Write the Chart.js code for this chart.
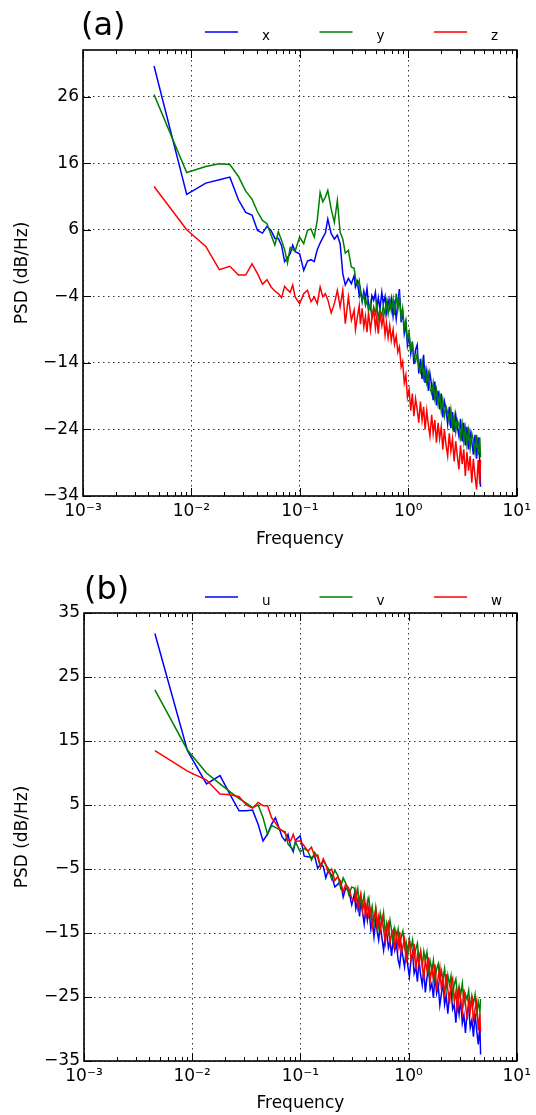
<!DOCTYPE html>
<html>
<head>
<meta charset="utf-8">
<script src="https://cdn.jsdelivr.net/npm/chart.js@4.4.1/dist/chart.umd.min.js"></script>
<style>
  body { margin: 0; background: #fff; }
  .panel { position: absolute; left: 0; width: 536px; }
</style>
</head>
<body>
<div class="panel" style="top:0;height:557px"><canvas id="chartA" width="536" height="557"></canvas></div>
<div class="panel" style="top:557px;height:558px"><canvas id="chartB" width="536" height="558"></canvas></div>
<script>
// frequency bins (Hz), shared by every series
const freq = [0.00452, 0.00904, 0.01356, 0.01808, 0.0226, 0.02712, 0.03164, 0.03616, 0.04068, 0.0452,
  0.04972, 0.05424, 0.05876, 0.06328, 0.0678, 0.07232, 0.07684, 0.08136, 0.08588, 0.0904,
  0.09944, 0.1085, 0.1175, 0.1266, 0.1356, 0.1446, 0.1537, 0.1627, 0.1718, 0.1808,
  0.1944, 0.2079, 0.2215, 0.235, 0.2486, 0.2622, 0.2802, 0.2983,
  0.3164, 0.3254, 0.339, 0.3526, 0.3616, 0.3752, 0.3887, 0.4023, 0.4158, 0.4294,
  0.4475, 0.461, 0.4791, 0.4972, 0.5108, 0.5288, 0.5469, 0.5695, 0.5876, 0.6102,
  0.6283, 0.6509, 0.6735, 0.6961, 0.7232, 0.7458, 0.7729, 0.8, 0.8272, 0.8588,
  0.8859, 0.9176, 0.9492, 0.9808, 1.017, 1.053, 1.089, 1.125, 1.166, 1.207,
  1.248, 1.293, 1.338, 1.383, 1.428, 1.478, 1.532, 1.582, 1.641, 1.695,
  1.754, 1.817, 1.88, 1.944, 2.011, 2.079, 2.152, 2.228, 2.305, 2.387,
  2.468, 2.554, 2.644, 2.735, 2.83, 2.929, 3.028, 3.137, 3.245, 3.354,
  3.471, 3.593, 3.715, 3.847, 3.978, 4.118, 4.258, 4.407, 4.561, 4.628];

// panel (a)
const psdX = [30.6, 11.3, 13.0, 13.5, 13.9, 10.5, 8.6, 8.2, 5.9, 5.5,
  6.5, 5.9, 4.7, 4.7, 3.6, 1.2, 1.8, 2.4, 3.7, 2.7,
  2.4, -0.1, 1.3, 1.5, 1.2, 3.0, 4.0, 4.8, 5.5, 7.6,
  5.4, 4.6, 5.2, 3.9, -0.6, -2.3, -1.3, -2.1,
  -0.9, -2.6, -1.8, -3.9, -2.9, -4.8, -3.2, -4.4, -2.8, -5.2,
  -5.9, -3.9, -4.6, -3.4, -5.7, -4.2, -6.0, -3.4, -5.1, -4.0,
  -6.4, -4.6, -5.8, -4.3, -7.0, -5.2, -7.4, -4.8, -2.9, -7.9,
  -6.0, -9.6, -8.2, -11.4, -10.0, -12.6, -10.8, -14.2, -12.0, -11.3,
  -15.6, -13.4, -16.4, -12.8, -17.0, -15.2, -18.2, -15.6, -17.4, -19.6,
  -16.8, -20.4, -18.2, -21.0, -18.6, -22.2, -19.8, -21.0, -23.2, -20.6,
  -23.8, -21.4, -24.4, -21.8, -23.6, -25.0, -22.4, -25.8, -23.0, -26.4,
  -23.6, -27.0, -24.4, -25.8, -27.8, -24.8, -28.4, -25.2, -29.0, -32.6];
const psdY = [26.3, 14.6, 15.5, 15.9, 15.8, 14.0, 11.8, 10.6, 8.7, 7.4,
  6.9, 5.2, 3.7, 5.7, 4.4, 3.0, 1.0, 3.3, 3.0, 2.8,
  4.9, 3.9, 5.9, 6.1, 4.9, 7.4, 11.6, 10.2, 10.9, 11.9,
  9.1, 7.1, 10.4, 5.6, 4.6, 2.5, 2.9, 0.4,
  0.2, -1.2, -2.4, -1.6, -3.6, -4.6, -3.8, -5.4, -4.6, -6.2,
  -5.0, -7.2, -5.6, -6.6, -5.2, -7.4, -6.0, -7.0, -5.4, -6.8,
  -4.8, -6.6, -4.6, -6.2, -4.4, -6.8, -3.6, -6.0, -4.2, -7.2,
  -5.8, -8.8, -7.6, -10.6, -9.4, -12.0, -11.2, -13.0, -13.8, -12.6,
  -14.6, -15.4, -13.8, -16.2, -15.0, -17.0, -15.6, -17.8, -18.6, -17.0,
  -19.4, -18.0, -20.2, -18.8, -21.2, -19.6, -22.0, -20.6, -21.4, -22.8,
  -21.0, -23.6, -22.0, -24.4, -22.6, -23.4, -25.2, -23.2, -25.8, -23.8,
  -26.4, -24.2, -26.8, -24.6, -25.6, -27.4, -24.8, -27.8, -25.2, -28.2];
const psdZ = [12.5, 6.0, 3.5, 0.0, 0.5, -0.8, -0.8, 0.9, -0.6, -2.2,
  -1.5, -2.6, -3.2, -3.6, -4.2, -2.5, -3.0, -3.4, -2.3, -4.1,
  -5.1, -3.6, -3.1, -4.8, -4.1, -5.1, -2.6, -4.1, -3.6, -4.5,
  -6.5, -5.1, -3.1, -5.6, -3.1, -8.1, -4.1, -7.6,
  -6.1, -9.0, -7.1, -5.4, -8.2, -5.8, -8.6, -7.0, -9.4, -6.4,
  -9.1, -7.4, -6.0, -8.8, -7.1, -9.6, -6.6, -8.4, -6.9, -9.8,
  -8.0, -10.2, -8.4, -10.6, -9.0, -11.2, -10.0, -12.4, -11.6, -14.6,
  -13.8, -17.0, -15.8, -19.2, -18.0, -21.2, -18.6, -22.0, -19.4, -21.0,
  -23.0, -19.8, -22.6, -20.6, -24.0, -21.2, -23.4, -25.0, -21.8, -24.6,
  -22.6, -26.0, -23.0, -25.4, -23.6, -27.0, -24.0, -26.4, -28.0, -24.6,
  -27.2, -25.4, -28.8, -25.8, -28.0, -30.0, -26.4, -29.2, -27.0, -31.0,
  -27.4, -30.2, -28.0, -32.0, -28.4, -31.0, -33.0, -28.6, -32.2, -28.6];

// panel (b)
const psdU = [31.8, 13.5, 8.3, 9.6, 6.5, 4.1, 4.1, 4.2, 2.0, -0.6,
  0.5, 2.0, 3.0, 1.5, 0.0, -0.6, 0.4, -1.5, -2.3, -0.5,
  0.2, -3.0, -3.1, -3.2, -3.0, -4.9, -4.2, -4.6, -6.4, -5.2,
  -6.0, -7.8, -7.4, -6.9, -9.4, -8.0, -8.4, -10.6,
  -8.8, -11.2, -9.9, -12.4, -10.0, -11.7, -13.6, -11.1, -13.0, -11.2,
  -14.3, -12.9, -15.6, -12.9, -14.6, -16.1, -13.8, -16.0, -17.7, -15.3,
  -14.9, -17.3, -16.2, -18.6, -15.7, -17.7, -16.7, -19.2, -20.2, -17.2,
  -18.7, -20.3, -17.7, -20.0, -21.8, -19.2, -18.1, -21.3, -20.3, -22.6,
  -19.2, -21.6, -23.1, -20.7, -24.3, -22.0, -20.4, -23.8, -22.9, -25.1,
  -21.7, -24.4, -23.2, -26.3, -24.5, -22.7, -26.2, -24.8, -27.6, -24.7,
  -23.9, -26.9, -26.2, -29.0, -25.6, -27.7, -25.3, -29.1, -27.8, -30.6,
  -27.4, -26.6, -29.8, -28.6, -31.2, -27.6, -30.2, -32.4, -29.4, -34.0];
const psdV = [23.0, 13.6, 10.0, 8.3, 7.0, 6.0, 5.3, 4.6, 5.0, 3.0,
  0.4, 1.8, 1.5, 1.2, 1.0, 0.8, -1.1, -1.6, -1.9, -0.8,
  -2.3, -1.8, -2.2, -3.6, -2.4, -3.2, -4.8, -3.7, -4.4, -4.9,
  -6.6, -5.2, -6.0, -7.9, -6.4, -7.2, -9.0, -7.8,
  -8.0, -9.6, -8.1, -11.0, -9.4, -10.5, -9.0, -11.7, -10.4, -9.5,
  -12.3, -10.9, -13.4, -11.0, -12.6, -14.1, -11.9, -13.6, -11.9, -15.3,
  -13.5, -15.0, -13.0, -14.6, -16.7, -14.3, -15.7, -14.4, -17.0, -15.5,
  -14.7, -17.3, -16.4, -18.6, -16.0, -17.4, -16.1, -18.9, -17.5, -16.6,
  -19.2, -17.8, -20.3, -17.9, -19.3, -18.0, -21.0, -19.4, -20.9, -19.3,
  -22.3, -20.6, -19.8, -22.5, -20.9, -22.3, -20.6, -23.6, -21.6, -23.1,
  -21.7, -24.7, -23.0, -22.2, -24.8, -23.3, -24.7, -22.9, -26.0, -24.6,
  -25.4, -24.0, -27.0, -24.8, -26.0, -24.6, -27.4, -25.8, -27.4, -25.3];
const psdW = [13.5, 10.3, 8.9, 6.7, 6.6, 6.3, 5.0, 4.5, 5.4, 4.9,
  4.9, 3.0, 2.2, 1.4, 1.0, 0.6, -0.5, -0.6, 0.4, -0.7,
  -0.6, -1.4, -2.2, -1.6, -3.0, -2.8, -4.6, -3.4, -4.3, -5.6,
  -5.0, -6.8, -6.2, -7.0, -8.6, -7.4, -8.0, -9.6,
  -10.0, -8.4, -11.1, -9.6, -8.8, -11.5, -10.2, -12.7, -10.2, -12.3,
  -11.3, -14.1, -12.4, -11.4, -14.4, -12.5, -14.5, -12.6, -14.5, -16.5,
  -14.1, -13.4, -16.6, -15.2, -14.5, -17.5, -15.3, -17.2, -14.8, -18.1,
  -17.1, -15.9, -19.6, -17.2, -16.2, -19.2, -18.5, -16.7, -20.7, -18.4,
  -20.0, -18.0, -19.7, -22.3, -19.1, -20.8, -18.8, -22.4, -20.5, -22.3,
  -19.9, -24.0, -21.8, -20.3, -23.9, -21.9, -25.0, -21.4, -23.8, -26.1,
  -22.9, -22.1, -25.6, -24.2, -27.4, -23.5, -25.5, -27.3, -23.8, -26.0,
  -28.6, -25.2, -27.2, -24.8, -29.0, -26.8, -25.6, -30.2, -27.6, -30.5];

const labelsA = ['x', 'y', 'z'];
const labelsB = ['u', 'v', 'w'];
const colors = ['#0000ff', '#008000', '#ff0000'];

const xTicks = [0.001, 0.01, 0.1, 1, 10];
const xTickLabels = ['10\u207B\u00B3', '10\u207B\u00B2', '10\u207B\u00B9', '10\u2070', '10\u00B9'];
const yTicksA = [-34, -24, -14, -4, 6, 16, 26];
const yTicksB = [-35, -25, -15, -5, 5, 15, 25, 35];

const FONT = 'DejaVu Sans';

// frame, inward ticks, panel tag and legend row
const panelDecor = {
  id: 'panelDecor',
  afterDraw(chart, args, opts) {
    const ctx = chart.ctx;
    const a = chart.chartArea;
    const x = chart.scales.x, y = chart.scales.y;
    ctx.save();
    ctx.strokeStyle = '#000';
    ctx.lineWidth = 1;
    ctx.beginPath();
    for (let d = -3; d < 1; d++) {
      for (let m = 2; m <= 9; m++) {
        const px = Math.round(x.getPixelForValue(m * Math.pow(10, d))) + 0.5;
        ctx.moveTo(px, a.bottom); ctx.lineTo(px, a.bottom - 4);
        ctx.moveTo(px, a.top); ctx.lineTo(px, a.top + 4);
      }
    }
    xTicks.forEach(v => {
      const px = Math.round(x.getPixelForValue(v)) + 0.5;
      ctx.moveTo(px, a.bottom); ctx.lineTo(px, a.bottom - 8);
      ctx.moveTo(px, a.top); ctx.lineTo(px, a.top + 8);
    });
    opts.yTicks.forEach(v => {
      const py = Math.round(y.getPixelForValue(v)) + 0.5;
      ctx.moveTo(a.left, py); ctx.lineTo(a.left + 8, py);
      ctx.moveTo(a.right, py); ctx.lineTo(a.right - 8, py);
    });
    ctx.stroke();
    ctx.lineWidth = 1.6;
    ctx.strokeRect(a.left, a.top, a.right - a.left, a.bottom - a.top);

    ctx.fillStyle = '#000';
    ctx.textBaseline = 'alphabetic';
    ctx.textAlign = 'left';
    ctx.font = '32px "' + FONT + '"';
    ctx.fillText(opts.tag, opts.tagX, opts.tagY);

    chart.data.datasets.forEach((ds, i) => {
      const lx = 205 + 114.5 * i;
      ctx.strokeStyle = ds.borderColor;
      ctx.lineWidth = 1.6;
      ctx.beginPath();
      ctx.moveTo(lx, opts.legendY);
      ctx.lineTo(lx + 33, opts.legendY);
      ctx.stroke();
      ctx.fillStyle = '#000';
      ctx.font = '13.5px "' + FONT + '"';
      ctx.fillText(ds.label, lx + 57, opts.legendY + 8);
    });
    ctx.restore();
  }
};

function makePanel(id, cfg) {
  const ctx = document.getElementById(id).getContext('2d');
  const tickFont = { family: FONT, size: 17 };
  return new Chart(ctx, {
    type: 'line',
    data: {
      datasets: cfg.series.map((s, i) => ({
        label: cfg.labels[i],
        data: freq.map((f, j) => ({ x: f, y: s[j] })),
        borderColor: colors[i],
        borderWidth: 1.5,
        pointRadius: 0,
        tension: 0,
        fill: false,
        order: 2 - i
      }))
    },
    options: {
      responsive: false,
      animation: false,
      devicePixelRatio: 1,
      layout: { padding: cfg.padding },
      plugins: {
        legend: { display: false },
        tooltip: { enabled: false },
        panelDecor: cfg.decor
      },
      scales: {
        x: {
          type: 'logarithmic',
          min: 0.001,
          max: 10,
          afterBuildTicks: s => { s.ticks = xTicks.map(v => ({ value: v })); },
          afterFit: s => { s.height = cfg.xHeight; },
          grid: { color: 'rgba(0,0,0,0.8)', lineWidth: 1, drawTicks: false },
          border: { display: false, dash: [1.5, 3.5] },
          ticks: {
            padding: 5,
            color: '#000',
            font: tickFont,
            maxRotation: 0,
            autoSkip: false,
            callback: (v, i) => xTickLabels[i]
          },
          title: { display: true, text: 'Frequency', color: '#000', font: tickFont, padding: { bottom: cfg.xTitlePad } }
        },
        y: {
          min: cfg.yMin,
          max: cfg.yMax,
          afterBuildTicks: s => { s.ticks = cfg.decor.yTicks.map(v => ({ value: v })); },
          afterFit: s => { s.width = cfg.yWidth; },
          grid: { color: 'rgba(0,0,0,0.8)', lineWidth: 1, drawTicks: false },
          border: { display: false, dash: [1.5, 3.5] },
          ticks: {
            padding: 4,
            color: '#000',
            font: tickFont,
            callback: v => (v < 0 ? '\u2212' + Math.abs(v) : String(v))
          },
          title: { display: true, text: 'PSD (dB/Hz)', color: '#000', font: tickFont, padding: { top: 12 } }
        }
      }
    },
    plugins: [panelDecor]
  });
}

makePanel('chartA', {
  series: [psdX, psdY, psdZ],
  labels: labelsA,
  yMin: -34, yMax: 33,
  padding: { top: 50, right: 19, left: 0, bottom: 0 },
  yWidth: 83, xHeight: 61, xTitlePad: 7,
  decor: { tag: '(a)', tagX: 81, tagY: 35, legendY: 32, yTicks: yTicksA }
});

makePanel('chartB', {
  series: [psdU, psdV, psdW],
  labels: labelsB,
  yMin: -35, yMax: 35,
  padding: { top: 56, right: 18, left: 0, bottom: 0 },
  yWidth: 84, xHeight: 54, xTitlePad: 1,
  decor: { tag: '(b)', tagX: 84, tagY: 42, legendY: 40, yTicks: yTicksB }
});
</script>
</body>
</html>
